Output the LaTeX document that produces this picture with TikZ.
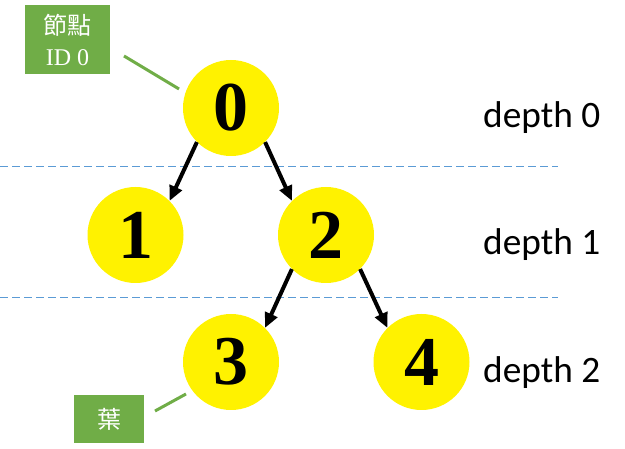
\documentclass[tikz,border=0pt]{standalone}
\usepackage{fontspec}
\setmainfont{Liberation Serif}
\newfontfamily\cjk{Noto Sans CJK TC}
\newfontfamily\depthfont{Carlito}
\usetikzlibrary{arrows.meta}
\definecolor{boxgreen}{HTML}{70AD47}
\definecolor{dashblue}{HTML}{5B9BD5}
\begin{document}
\begin{tikzpicture}[x=1pt,y=-1pt,
  tnode/.style={circle,fill=yellow,minimum size=96pt,inner sep=0pt,
    font=\fontsize{70}{70}\selectfont\bfseries},
  arr/.style={line width=4pt,-{Triangle[length=15pt,width=13pt]}},
  depthlbl/.style={anchor=base west,inner sep=0pt,font=\depthfont\fontsize{37.3}{40}\selectfont},
  gbox/.style={fill=boxgreen,text=white,inner sep=0pt,align=center,
    font=\fontsize{24}{31}\selectfont},
  gline/.style={draw=boxgreen,line width=3pt},
  sep/.style={draw=dashblue,line width=1pt,dash pattern=on 8pt off 4pt}]
\useasboundingbox (0,0) rectangle (625,449);
\coordinate (s1a) at (0,167);
\coordinate (s1b) at (558,167);
\coordinate (s2a) at (0,298);
\coordinate (s2b) at (558,298);
\draw[sep] (s1a) -- (s1b);
\draw[sep] (s2a) -- (s2b);
\node[tnode] (n0) at (231,108) {0};
\node[tnode] (n1) at (135.5,235) {1};
\node[tnode] (n2) at (326,235) {2};
\node[tnode] (n3) at (231,362) {3};
\node[tnode] (n4) at (421.5,362) {4};
\draw[arr] (n0.south west) -- (n1.north east);
\draw[arr] (n0.south east) -- (n2.north west);
\draw[arr] (n2.south west) -- (n3.north east);
\draw[arr] (n2.south east) -- (n4.north west);
\node[depthlbl] (d0) at (483,128) {depth 0};
\node[depthlbl] (d1) at (483,255) {depth 1};
\node[depthlbl] (d2) at (483,383) {depth 2};
\node[gbox,minimum width=85pt,minimum height=69pt] (b1) at (67.5,39.5) {{\cjk 節點}\\ID 0};
\node[gbox,minimum width=70pt,minimum height=48pt] (b2) at (109,419) {\cjk 葉};
\coordinate (l1a) at (124,56);
\coordinate (l1b) at (179,89);
\coordinate (l2a) at (155,411);
\coordinate (l2b) at (186,394);
\draw[gline] (l1a) -- (l1b);
\draw[gline] (l2a) -- (l2b);
\end{tikzpicture}
\end{document}
